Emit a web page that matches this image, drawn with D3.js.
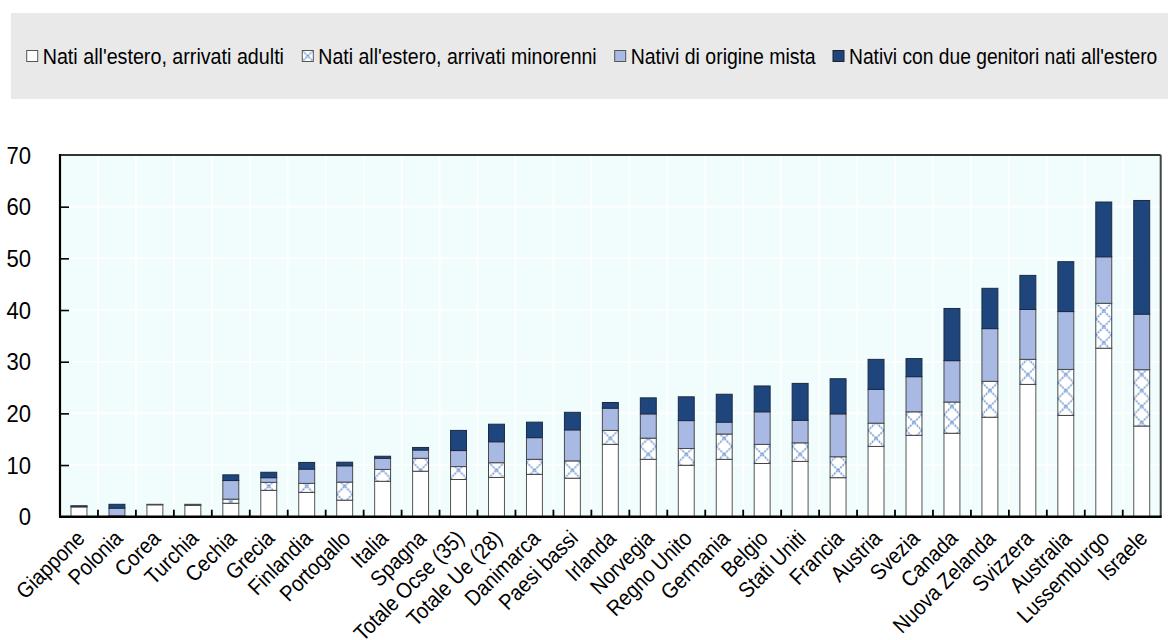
<!DOCTYPE html>
<html>
<head>
<meta charset="utf-8">
<script src="https://cdn.jsdelivr.net/npm/d3@7"></script>
<style>
  html, body { margin: 0; padding: 0; background: #ffffff; }
  svg { display: block; font-family: "Liberation Sans", Arial, sans-serif; }
</style>
</head>
<body>
<svg id="chart" width="1168" height="640"></svg>
<script>
const categories = ["Giappone","Polonia","Corea","Turchia","Cechia","Grecia","Finlandia","Portogallo","Italia","Spagna","Totale Ocse (35)","Totale Ue (28)","Danimarca","Paesi bassi","Irlanda","Norvegia","Regno Unito","Germania","Belgio","Stati Uniti","Francia","Austria","Svezia","Canada","Nuova Zelanda","Svizzera","Australia","Lussemburgo","Israele"];
const adults     = [1.9, 0.1, 2.3, 2.2, 2.6, 5.1, 4.7, 3.2, 6.85, 8.8, 7.2, 7.6, 8.2, 7.45, 14.0, 11.1, 9.95, 11.1, 10.3, 10.7, 7.55, 13.6, 15.75, 16.15, 19.25, 25.6, 19.6, 32.6, 17.55];
const minors     = [0.05, 0.05, 0.0, 0.05, 0.8, 1.55, 1.75, 3.5, 2.3, 2.5, 2.5, 2.85, 2.9, 3.35, 2.7, 4.1, 3.25, 4.9, 3.7, 3.6, 4.05, 4.5, 4.55, 6.05, 6.95, 4.85, 8.9, 8.7, 10.9];
const mixed      = [0.1, 1.5, 0.1, 0.15, 3.6, 0.9, 2.75, 3.15, 2.15, 1.6, 3.1, 4.05, 4.2, 6.0, 4.3, 4.7, 5.4, 2.3, 6.3, 4.35, 8.3, 6.55, 6.8, 8.0, 10.2, 9.65, 11.2, 9.0, 10.75];
const twoParents = [0.05, 0.75, 0.0, 0.0, 1.1, 1.05, 1.3, 0.7, 0.4, 0.5, 3.9, 3.4, 3.0, 3.4, 1.1, 3.1, 4.6, 5.4, 5.0, 7.15, 6.8, 5.8, 3.5, 10.1, 7.8, 6.6, 9.65, 10.6, 22.0];
const seriesNames = ["Nati all'estero, arrivati adulti","Nati all'estero, arrivati minorenni","Nativi di origine mista","Nativi con due genitori nati all'estero"];
const yTicks = [0, 10, 20, 30, 40, 50, 60, 70];

const svg = d3.select("#chart");
const defs = svg.append("defs");
const FONT = '"Liberation Sans", Arial, sans-serif';

const L = 60, R = 1160.7, T = 155, B = 516.7;
const x = d3.scaleBand().domain(categories).range([L, R]).paddingInner(0.58).paddingOuter(0.29);
const y = d3.scaleLinear().domain([0, 70]).range([B, T]);

const seriesKeys = ["adults","minors","mixed","two"];
const rows = categories.map((c, i) => ({cat: c, adults: adults[i], minors: minors[i], mixed: mixed[i], two: twoParents[i]}));
const stacked = d3.stack().keys(seriesKeys)(rows);

const fills = { adults: "#ffffff", mixed: "#a8b9e3", two: "#1f467c" };
const strokes = { adults: "#555555", minors: "#444444", mixed: "#4a4a4a", two: "#1a2a44" };

// Legend box
svg.append("rect").attr("x", 11).attr("y", 13).attr("width", 1157).attr("height", 86).attr("fill", "#e9e9e9");

// plot background
svg.append("rect").attr("x", L).attr("y", T).attr("width", R - L).attr("height", B - T).attr("fill", "#f1fdfd");

// horizontal gridlines
svg.append("g").selectAll("line").data(yTicks.filter(d => d > 0 && d < 70)).join("line")
  .attr("x1", L).attr("x2", R).attr("y1", d => y(d)).attr("y2", d => y(d))
  .attr("stroke", "#ffffff").attr("stroke-width", 1.6);

// vertical gridlines at category boundaries
const step = x.step();
const boundaries = categories.slice(1).map(c => x(c) - step * x.paddingInner() / 2);
svg.append("g").selectAll("line").data(boundaries).join("line")
  .attr("x1", d => d).attr("x2", d => d).attr("y1", T).attr("y2", B)
  .attr("stroke", "#ffffff").attr("stroke-width", 1.6);

// hatch patterns per bar
function makeHatch(id, px, py, size) {
  const p = defs.append("pattern").attr("id", id).attr("patternUnits", "userSpaceOnUse")
    .attr("x", px).attr("y", py).attr("width", size).attr("height", size);
  p.append("rect").attr("width", size).attr("height", size).attr("fill", "#ffffff");
  p.append("path").attr("d", `M0,0L${size},${size}M${size},0L0,${size}`)
    .attr("stroke", "#6e97d2").attr("stroke-width", 1.6).attr("stroke-dasharray", "2,1").attr("fill", "none");
  return p;
}
const bw = x.bandwidth();
categories.forEach((c, i) => makeHatch("hatch" + i, x(c), 0, bw));

// bars
const gBars = svg.append("g");
stacked.forEach(layer => {
  const key = layer.key;
  gBars.append("g").selectAll("rect").data(layer).join("rect")
    .attr("x", d => x(d.data.cat))
    .attr("y", d => y(d[1]))
    .attr("width", bw)
    .attr("height", d => Math.max(0, y(d[0]) - y(d[1])))
    .attr("fill", (d, i) => key === "minors" ? `url(#hatch${i})` : fills[key])
    .attr("stroke", strokes[key])
    .attr("stroke-width", 1)
    .attr("display", d => (d[1] - d[0]) > 0 ? null : "none");
});

// frame: top and right borders
svg.append("line").attr("x1", L).attr("x2", R).attr("y1", T).attr("y2", T).attr("stroke", "#333").attr("stroke-width", 2);
svg.append("line").attr("x1", R).attr("x2", R).attr("y1", T).attr("y2", B).attr("stroke", "#444").attr("stroke-width", 2);

// y axis
const yAxis = d3.axisRight(y).tickValues(yTicks.filter(d => d > 0 && d < 70)).tickSize(9).tickFormat("");
const gy = svg.append("g").attr("transform", `translate(${L},0)`).call(yAxis);
gy.select(".domain").remove();
gy.selectAll(".tick line").attr("stroke", "#000").attr("stroke-width", 1.6);
svg.append("line").attr("x1", L).attr("x2", L).attr("y1", T - 1).attr("y2", B).attr("stroke", "#000").attr("stroke-width", 2.2);

svg.append("g").selectAll("text").data(yTicks).join("text")
  .attr("transform", d => `translate(31,${y(d)}) scale(0.92,1)`)
  .attr("dy", "0.36em")
  .attr("text-anchor", "end").attr("font-family", FONT).attr("font-size", 24).attr("fill", "#000")
  .text(d => d);

// bottom ticks at boundaries
svg.append("g").selectAll("line").data(boundaries).join("line")
  .attr("x1", d => d).attr("x2", d => d).attr("y1", B - 7).attr("y2", B)
  .attr("stroke", "#000").attr("stroke-width", 1.8);
svg.append("line").attr("x1", L - 1).attr("x2", R + 1).attr("y1", B).attr("y2", B).attr("stroke", "#000").attr("stroke-width", 2.6);

// x labels
svg.append("g").selectAll("text").data(categories).join("text")
  .attr("transform", c => `translate(${x(c) + bw / 2 + 7},${B + 23}) rotate(-45) scale(0.9,1)`)
  .attr("text-anchor", "end").attr("font-family", FONT).attr("font-size", 22).attr("fill", "#000")
  .text(c => c);

// legend
const legendItems = [
  {name: seriesNames[0], tx: 42.7, tw: 241.3, type: "adults"},
  {name: seriesNames[1], tx: 318.3, tw: 278.4, type: "minors"},
  {name: seriesNames[2], tx: 630.7, tw: 185, type: "mixed"},
  {name: seriesNames[3], tx: 849, tw: 308.3, type: "two"}
];
makeHatch("hatchLegend", 318.3 - 16, 50.5, 11);
const lg = svg.append("g");
legendItems.forEach(it => {
  lg.append("rect").attr("x", it.tx - 16).attr("y", 50.5).attr("width", 11).attr("height", 11)
    .attr("fill", it.type === "minors" ? "url(#hatchLegend)" : fills[it.type])
    .attr("stroke", it.type === "two" ? "#222" : "#555").attr("stroke-width", 1);
  lg.append("text").attr("x", it.tx).attr("y", 63.5)
    .attr("font-family", FONT).attr("font-size", 22).attr("fill", "#000")
    .attr("textLength", it.tw).attr("lengthAdjust", "spacingAndGlyphs")
    .text(it.name);
});
</script>
</body>
</html>
